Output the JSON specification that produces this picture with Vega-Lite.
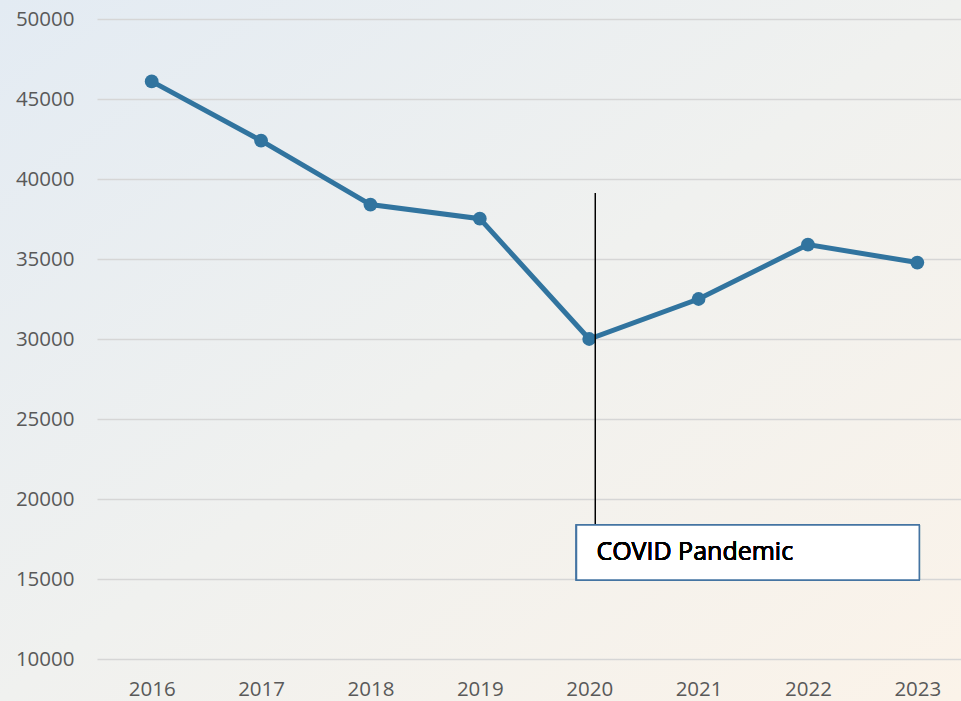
{
  "$schema": "https://vega.github.io/schema/vega-lite/v6.json",
  "width": 961,
  "height": 701,
  "autosize": {"type": "none"},
  "padding": 0,
  "background": "#f0f1ef",
  "view": {
    "stroke": null,
    "fill": {"expr": "{gradient: 'linear', x1: 0, y1: 0, x2: 1, y2: 1, stops: [{offset: 0, color: '#e3ebf3'}, {offset: 0.5, color: '#f0f1ef'}, {offset: 1, color: '#fbf3e9'}]}"}
  },
  "data": {
    "values": [
      {"year": 2016, "value": 46100},
      {"year": 2017, "value": 42400},
      {"year": 2018, "value": 38400},
      {"year": 2019, "value": 37520},
      {"year": 2020, "value": 30000},
      {"year": 2021, "value": 32500},
      {"year": 2022, "value": 35900},
      {"year": 2023, "value": 34780}
    ]
  },
  "encoding": {
    "x": {
      "type": "quantitative",
      "scale": {"domain": [2015.5, 2023.5], "range": [97, 972], "zero": false, "nice": false},
      "axis": {
        "orient": "bottom",
        "offset": -42,
        "values": [2016, 2017, 2018, 2019, 2020, 2021, 2022, 2023],
        "format": "d",
        "title": null,
        "domain": false,
        "ticks": false,
        "grid": false,
        "labelPadding": 20,
        "labelFlush": false,
        "labelOverlap": false,
        "labelBound": false,
        "labelFont": "Open Sans",
        "labelFontSize": 20.5,
        "labelColor": "#595959"
      }
    },
    "y": {
      "type": "quantitative",
      "scale": {"domain": [10000, 50000], "range": [659, 19], "zero": false, "nice": false},
      "axis": {
        "orient": "left",
        "offset": -97,
        "values": [10000, 15000, 20000, 25000, 30000, 35000, 40000, 45000, 50000],
        "format": "d",
        "title": null,
        "domain": false,
        "ticks": false,
        "grid": true,
        "gridColor": "#d6d6d6",
        "gridWidth": 1.5,
        "labelPadding": 23,
        "labelFlush": false,
        "labelOverlap": false,
        "labelBound": false,
        "labelFont": "Open Sans",
        "labelFontSize": 20.5,
        "labelColor": "#595959"
      }
    }
  },
  "layer": [
    {
      "mark": {
        "type": "line",
        "color": "#31749f",
        "strokeWidth": 5,
        "point": {"filled": true, "size": 190, "color": "#31749f"}
      },
      "encoding": {
        "x": {"field": "year"},
        "y": {"field": "value"}
      }
    },
    {
      "mark": {"type": "rule", "color": "#000000", "strokeWidth": 1},
      "encoding": {
        "x": {"datum": 2020.057},
        "y": {"datum": 39125},
        "y2": {"datum": 18375}
      }
    },
    {
      "mark": {"type": "rect", "fill": "#ffffff", "stroke": "#4474a2", "strokeWidth": 1.5},
      "encoding": {
        "x": {"datum": 2019.884},
        "x2": {"datum": 2023.018},
        "y": {"datum": 18375},
        "y2": {"datum": 14938}
      }
    },
    {
      "mark": {"type": "text", "text": "COVID Pandemic", "align": "left", "baseline": "middle", "font": "Open Sans", "fontSize": 25, "fontWeight": "normal", "color": "#000000"},
      "encoding": {
        "x": {"datum": 2020.066},
        "y": {"datum": 16690}
      }
    }
  ]
}
